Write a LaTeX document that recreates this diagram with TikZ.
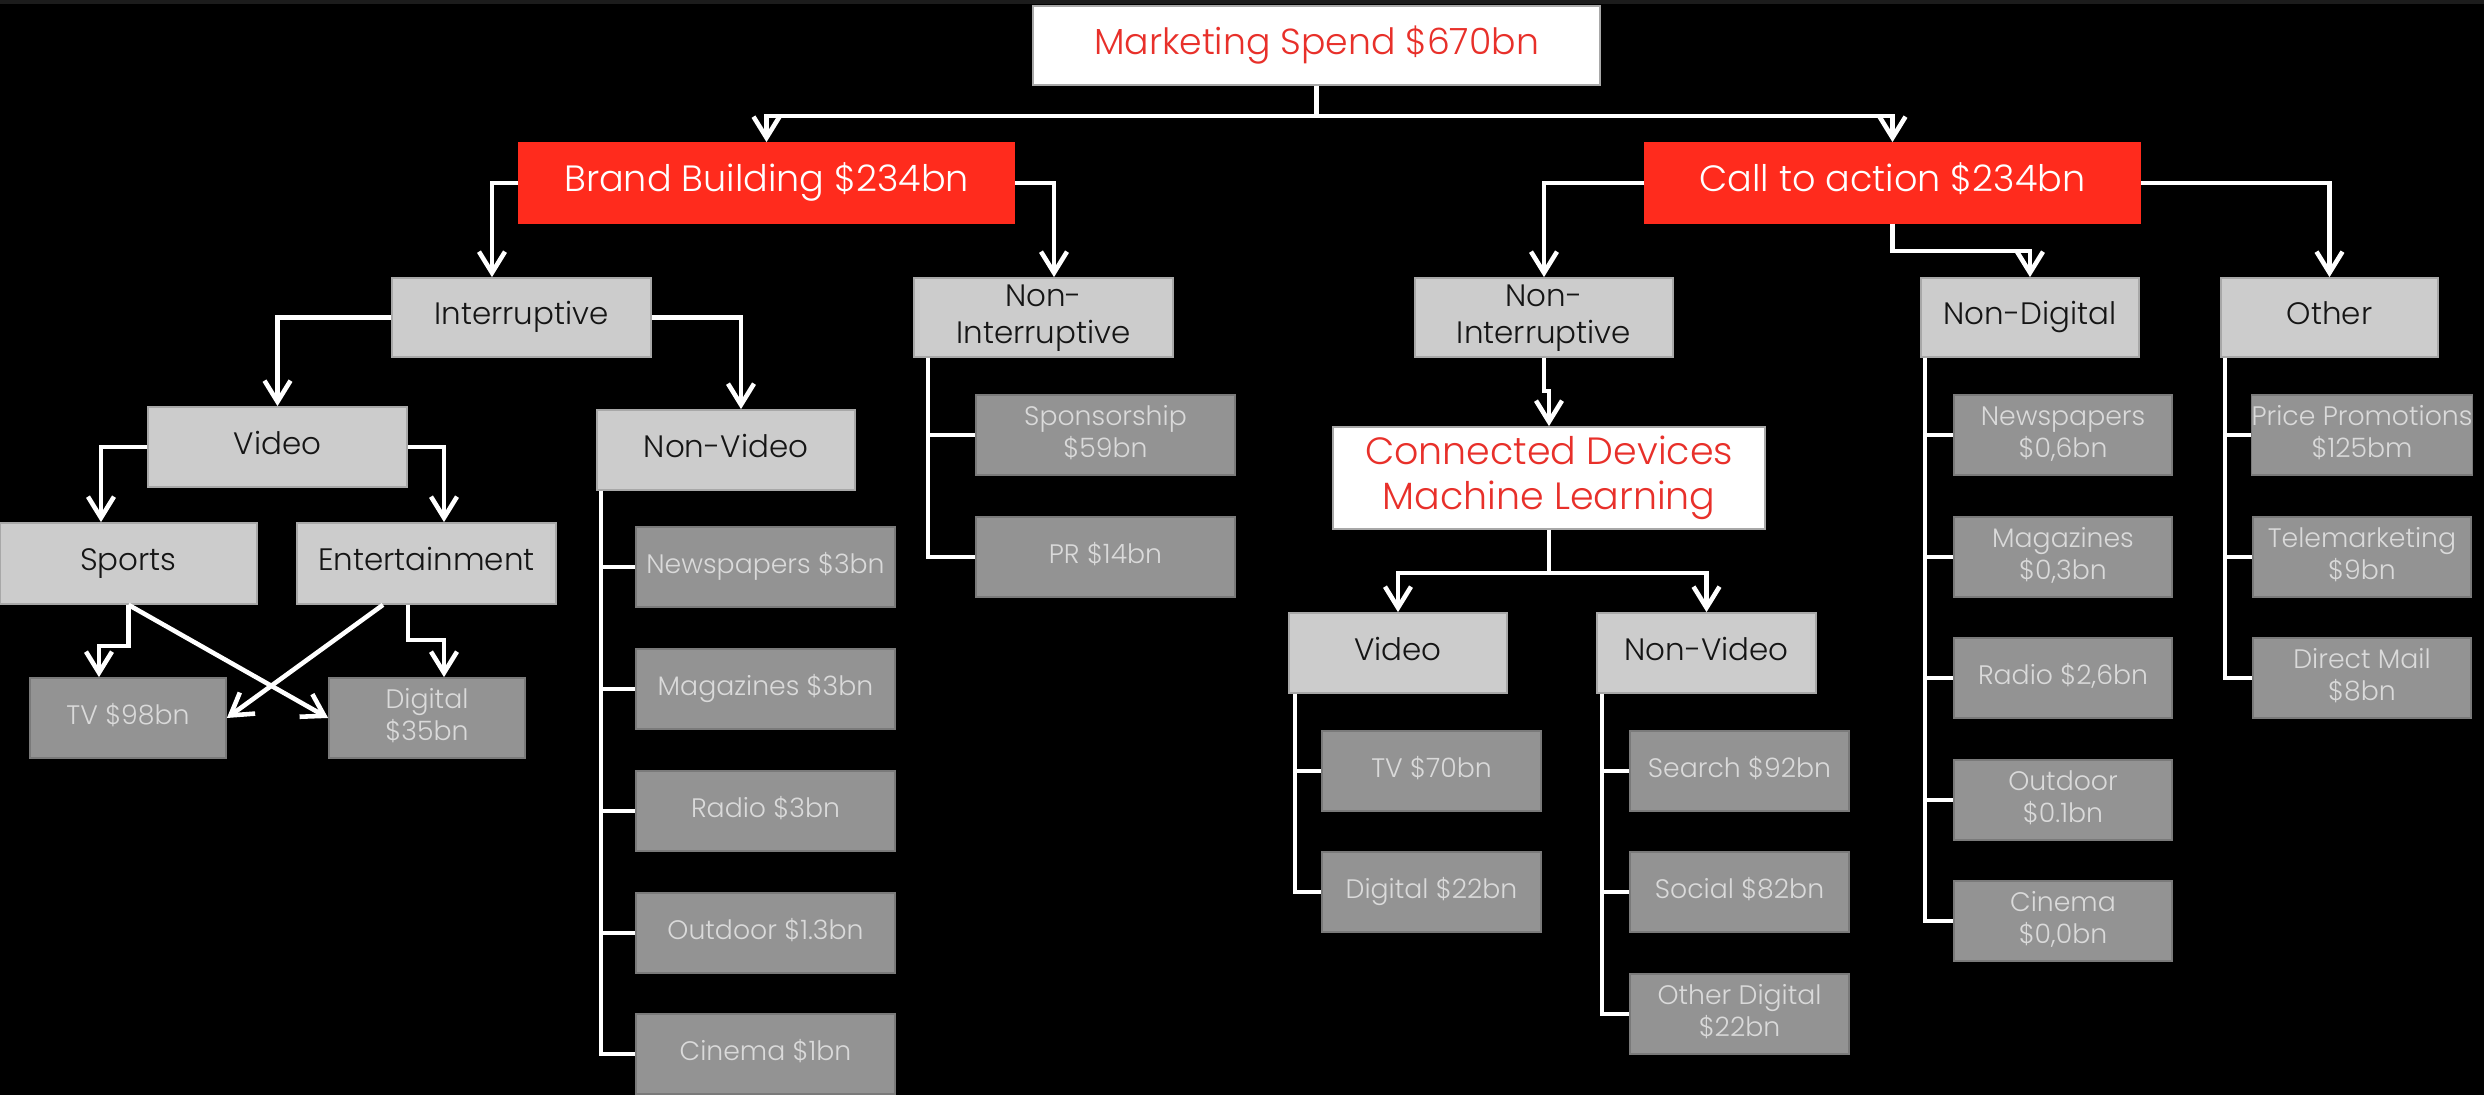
\documentclass[tikz,border=0pt]{standalone}
\usepackage{fontspec}
\setmainfont{Poppins}[UprightFont=* Light]
\usetikzlibrary{arrows.meta}
\definecolor{redfill}{HTML}{FF2B1D}
\definecolor{redtext}{HTML}{E8302A}
\definecolor{lightfill}{HTML}{CCCCCC}
\definecolor{lightedge}{HTML}{A8A8A8}
\definecolor{darkfill}{HTML}{939393}
\definecolor{darkedge}{HTML}{7A7A7A}
\definecolor{leaftext}{HTML}{DADADA}
\definecolor{midtext}{HTML}{151515}
\definecolor{topband}{HTML}{1C1C1C}
\begin{document}
\begin{tikzpicture}[x=0.01cm,y=-0.01cm,
  sz/.style 2 args={minimum width=#1*0.01cm, minimum height=#2*0.01cm},
  basebox/.style={inner sep=0pt, align=center, line width=0.5pt},
  topbox/.style={basebox, fill=white, draw=lightedge, text=redtext,
    font=\fontsize{10.8}{12.8}\selectfont, text height=7.99pt, text depth=2.81pt},
  redbox/.style={basebox, fill=redfill, draw=redfill, text=white,
    font=\fontsize{10.4}{12}\selectfont, text height=7.70pt, text depth=2.70pt},
  midbox/.style={basebox, fill=lightfill, draw=lightedge, text=midtext,
    font=\fontsize{8.8}{10.7}\selectfont, text height=6.51pt, text depth=2.29pt},
  leafbox/.style={basebox, fill=darkfill, draw=darkedge, text=leaftext,
    font=\fontsize{7.6}{9.1}\selectfont, text height=5.62pt, text depth=1.98pt},
  % two-line boxes: the text box's baseline is that of the last line
  toptwo/.style={text height=20.79pt},
  midtwo/.style={text height=17.21pt},
  leaftwo/.style={text height=14.72pt},
  wire/.style={draw=white, line width=1.3pt},
  arr/.style={wire, -{Straight Barb[length=6pt,width=7.4pt,line width=1.3pt]}}
]
\fill[black] (0,0) rectangle (2484,1095);
\fill[topband] (0,0) rectangle (2484,4);
\useasboundingbox (0,0) rectangle (2484,1095);

% --- upper levels ---
\node[topbox, sz={567}{79}, font=\fontsize{10.3}{12}\selectfont, text height=7.62pt, text depth=2.68pt]
  (spend) at (1316.5,45.5) {Marketing Spend \$670bn};
\node[redbox, sz={495}{80}] (brand) at (766.5,183) {Brand Building \$234bn};
\node[redbox, sz={495}{80}] (cta) at (1892.5,183) {Call to action \$234bn};

% --- brand building branch ---
\node[midbox, sz={259}{79}] (intL) at (521.5,317.5) {Interruptive};
\node[midbox, midtwo, sz={259}{79}] (nonintL) at (1043.5,317.5) {Non-\\Interruptive};
\node[midbox, sz={259}{80}] (vidL) at (277.5,447) {Video};
\node[midbox, sz={258}{80}] (nonvidL) at (726,450) {Non-Video};
\node[midbox, sz={257}{81}] (sports) at (128.5,563.5) {Sports};
\node[midbox, sz={259}{81}] (ent) at (426.5,563.5) {Entertainment};
\node[leafbox, sz={196}{80}] (tvL) at (128,718) {TV \$98bn};
\node[leafbox, leaftwo, sz={196}{80}] (digL) at (427,718) {Digital\\\$35bn};

\node[leafbox, sz={259}{80}] (nv1) at (765.5,567) {Newspapers \$3bn};
\node[leafbox, sz={259}{80}] (nv2) at (765.5,689) {Magazines \$3bn};
\node[leafbox, sz={259}{80}] (nv3) at (765.5,811) {Radio \$3bn};
\node[leafbox, sz={259}{80}] (nv4) at (765.5,933) {Outdoor \$1.3bn};
\node[leafbox, sz={259}{80}] (nv5) at (765.5,1054) {Cinema \$1bn};

\node[leafbox, leaftwo, sz={259}{80}] (sp) at (1105.5,435) {Sponsorship\\\$59bn};
\node[leafbox, sz={259}{80}] (pr) at (1105.5,557) {PR \$14bn};

% --- call to action branch ---
\node[midbox, midtwo, sz={258}{79}] (nonintR) at (1544,317.5) {Non-\\Interruptive};
\node[midbox, sz={218}{79}] (nondig) at (2030,317.5) {Non-Digital};
\node[midbox, sz={217}{79}] (other) at (2329.5,317.5) {Other};
\node[topbox, toptwo, sz={432}{102}] (conn) at (1549,478) {Connected Devices\\Machine Learning};
\node[midbox, sz={218}{80}] (vidR) at (1398,653) {Video};
\node[midbox, sz={219}{80}] (nonvidR) at (1706.5,653) {Non-Video};

\node[leafbox, sz={219}{80}] (tvR) at (1431.5,771) {TV \$70bn};
\node[leafbox, sz={219}{80}] (digR) at (1431.5,892) {Digital \$22bn};
\node[leafbox, sz={219}{80}] (srch) at (1739.5,771) {Search \$92bn};
\node[leafbox, sz={219}{80}] (soc) at (1739.5,892) {Social \$82bn};
\node[leafbox, leaftwo, sz={219}{80}] (odig) at (1739.5,1014) {Other Digital\\\$22bn};

\node[leafbox, leaftwo, sz={218}{80}] (nd1) at (2063,435) {Newspapers\\\$0,6bn};
\node[leafbox, leaftwo, sz={218}{80}] (nd2) at (2063,557) {Magazines\\\$0,3bn};
\node[leafbox, sz={218}{80}] (nd3) at (2063,678) {Radio \$2,6bn};
\node[leafbox, leaftwo, sz={218}{80}] (nd4) at (2063,800) {Outdoor\\\$0.1bn};
\node[leafbox, leaftwo, sz={218}{80}] (nd5) at (2063,921) {Cinema\\\$0,0bn};

\node[leafbox, leaftwo, sz={218}{80}] (ot1) at (2362,435) {Price Promotions\\\$125bm};
\node[leafbox, leaftwo, sz={218}{80}] (ot2) at (2362,557) {Telemarketing\\\$9bn};
\node[leafbox, leaftwo, sz={218}{80}] (ot3) at (2362,678) {Direct Mail\\\$8bn};

% --- connectors ---
\draw[arr] (spend.south) -- ++(0,30) -| (brand.north);
\draw[arr] (spend.south) -- ++(0,30) -| (cta.north);

\draw[arr] (brand.west) -| ([xshift=-0.295cm]intL.north);
\draw[arr] (brand.east) -| ([xshift=0.105cm]nonintL.north);
\draw[arr] (intL.west) -| (vidL.north);
\draw[arr] (intL.east) -| ([xshift=0.15cm]nonvidL.north);
\draw[arr] (vidL.west) -| ([xshift=-0.275cm]sports.north);
\draw[arr] (vidL.east) -| ([xshift=0.175cm]ent.north);
\draw[arr] (sports.south) -- ++(0,41) -| ([xshift=-0.29cm]tvL.north);
\draw[arr] ([xshift=-0.185cm]ent.south) -- ++(0,35) -| ([xshift=0.17cm]digL.north);
\draw[arr] (sports.south) -- (digL.west);
\draw[arr] ([xshift=-0.435cm]ent.south) -- (tvL.east);

\foreach \n in {nv1,nv2,nv3,nv4,nv5}
  \draw[wire] ([xshift=0.05cm]nonvidL.south west) |- (\n.west);
\foreach \n in {sp,pr}
  \draw[wire] ([xshift=0.15cm]nonintL.south west) |- (\n.west);

\draw[arr] (cta.west) -| (nonintR.north);
\draw[arr] (cta.east) -| (other.north);
\draw[arr] (cta.south) -- ++(0,27) -| (nondig.north);
\draw[arr] (nonintR.south) -- ++(0,33) -| (conn.north);
\draw[arr] (conn.south) -- ++(0,43) -| (vidR.north);
\draw[arr] (conn.south) -- ++(0,43) -| (nonvidR.north);

\foreach \n in {tvR,digR}
  \draw[wire] ([xshift=0.07cm]vidR.south west) |- (\n.west);
\foreach \n in {srch,soc,odig}
  \draw[wire] ([xshift=0.06cm]nonvidR.south west) |- (\n.west);
\foreach \n in {nd1,nd2,nd3,nd4,nd5}
  \draw[wire] ([xshift=0.05cm]nondig.south west) |- (\n.west);
\foreach \n in {ot1,ot2,ot3}
  \draw[wire] ([xshift=0.05cm]other.south west) |- (\n.west);
\end{tikzpicture}
\end{document}
